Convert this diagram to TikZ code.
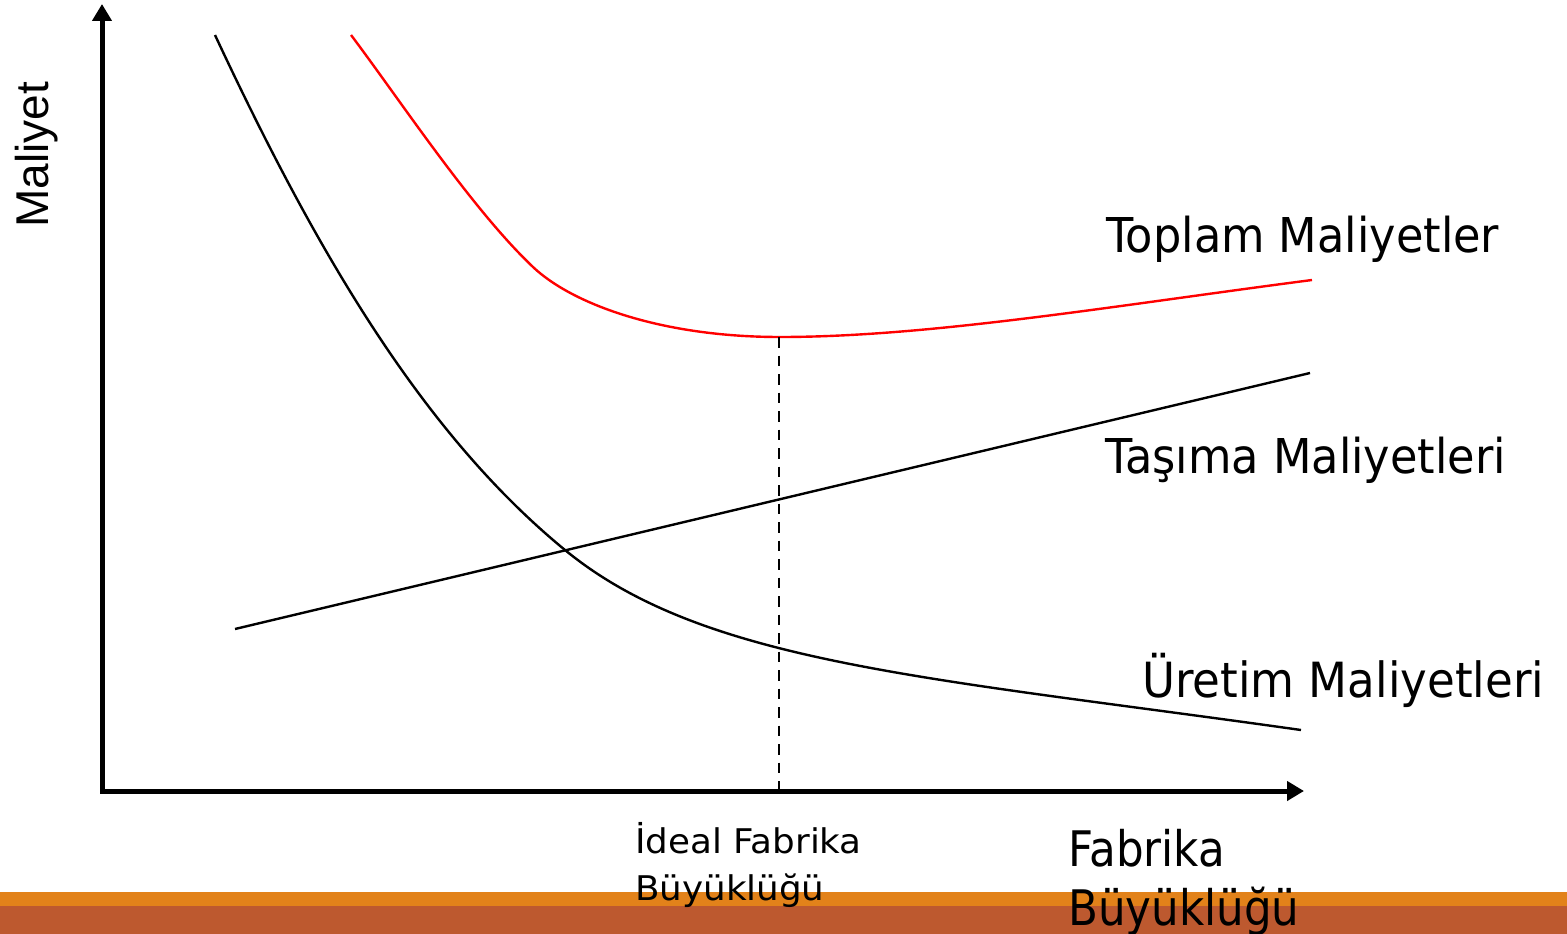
\documentclass[tikz,border=0pt]{standalone}
\usepackage{fontspec}
\newfontfamily\tah[FakeStretch=0.93]{DejaVu Sans}
\newfontfamily\tahc[FakeStretch=0.89]{DejaVu Sans}
\newfontfamily\tahw[FakeStretch=1.05]{DejaVu Sans}
\newfontfamily\arl{Liberation Sans}
\usetikzlibrary{arrows.meta}
\definecolor{barorange}{HTML}{E2821A}
\definecolor{barrust}{HTML}{BD592F}
\begin{document}
\begin{tikzpicture}[x=1pt,y=-1pt,
  lbl/.style={inner sep=0pt,anchor=base west,font=\tah\fontsize{48}{56}\selectfont},
  axislbl/.style={inner sep=0pt,anchor=base west,font=\tahc\fontsize{49}{56}\selectfont},
  smalllbl/.style={inner sep=0pt,anchor=base west,font=\tahw\fontsize{34}{40}\selectfont},
  curve/.style={line width=2.4pt,line join=round},
  axis/.style={line width=5pt,{Triangle[length=17pt,width=19pt]}-{Triangle[length=17pt,width=19pt]}},
  guide/.style={line width=2.4pt,dash pattern=on 10.5pt off 8pt}]
\useasboundingbox (0,0) rectangle (1567,934);
% bottom bar
\fill[barorange] (0,892) rectangle (1567,906);
\fill[barrust] (0,906) rectangle (1567,934);
% axes
\coordinate (ytip) at (102,4);
\coordinate (origin) at (102,791);
\coordinate (xtip) at (1304,791);
\draw[axis] (ytip) -- (origin) -- (xtip);
% production costs
\coordinate (p0) at (215,35);
\coordinate (p1) at (565,550);
\coordinate (p2) at (1301,730);
\draw[curve] (p0) .. controls (320,260) and (426,436) .. (p1)
                  .. controls (704,664) and (926,677) .. (p2);
% transport costs
\coordinate (t0) at (235,629);
\coordinate (t1) at (1310,373);
\draw[curve] (t0) -- (t1);
% total costs
\coordinate (r0) at (351,35);
\coordinate (r1) at (533,267);
\coordinate (rmin) at (780,337);
\coordinate (r2) at (1312,280);
\draw[curve,red] (r0) .. controls (400,100) and (471.4,208.6) .. (r1)
                      .. controls (571.5,303.5) and (660,337) .. (rmin)
                      .. controls (930,337) and (1112,306) .. (r2);
% ideal size guide
\coordinate (gbot) at (779,789);
\draw[guide] (rmin -| gbot) -- (gbot);
% labels
\node[lbl] (toplam) at (1106,252) {Toplam Maliyetler};
\node[lbl] (tasima) at (1105,473) {Taşıma Maliyetleri};
\node[lbl,font=\tah\fontsize{48.5}{56}\selectfont] (uretim) at (1142,697) {Üretim Maliyetleri};
\node[smalllbl] (ideal1) at (635,853) {İdeal Fabrika};
\node[smalllbl] (ideal2) at (635,900) {Büyüklüğü};
\node[axislbl] (fab1) at (1068,866) {Fabrika};
\node[axislbl] (fab2) at (1068,925) {Büyüklüğü};
\node[inner sep=0pt,anchor=base west,rotate=90,font=\arl\fontsize{46}{54}\selectfont] (maliyet) at (48,228) {Maliyet};
\end{tikzpicture}
\end{document}
